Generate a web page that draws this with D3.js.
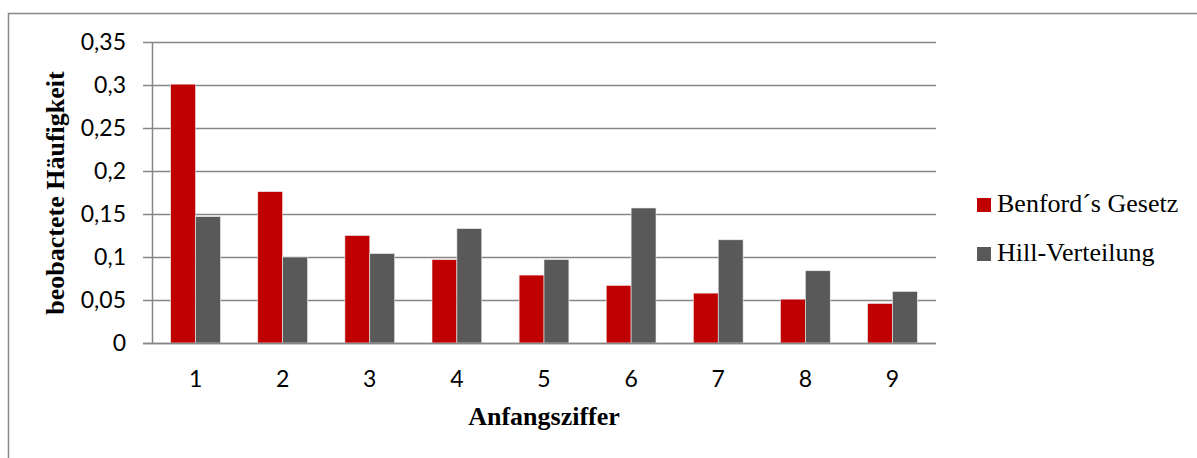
<!DOCTYPE html>
<html>
<head>
<meta charset="utf-8">
<script src="https://cdn.jsdelivr.net/npm/d3@7"></script>
<style>
  body { margin: 0; background: #fff; }
  svg { display: block; }
</style>
</head>
<body>
<svg id="chart"></svg>
<script>
// data
var categories = ["1", "2", "3", "4", "5", "6", "7", "8", "9"];
var seriesNames = ["Benford´s Gesetz", "Hill-Verteilung"];
var benford = [0.301, 0.176, 0.125, 0.097, 0.079, 0.067, 0.058, 0.051, 0.046];
var hill = [0.147, 0.100, 0.104, 0.133, 0.097, 0.157, 0.120, 0.084, 0.060];
var yTicks = [0, 0.05, 0.1, 0.15, 0.2, 0.25, 0.3, 0.35];
var colors = ["#c00000", "#595959"];

var W = 1197, H = 458;
var margin = {top: 42, right: 261, bottom: 115, left: 152},
    width = W - margin.left - margin.right,
    height = H - margin.top - margin.bottom;

var svg = d3.select("#chart")
    .attr("width", W)
    .attr("height", H);

// outer frame (runs off the right and bottom of the picture)
svg.append("rect")
    .attr("x", 8.5)
    .attr("y", 13.5)
    .attr("width", 1300)
    .attr("height", 600)
    .attr("fill", "none")
    .attr("stroke", "#888")
    .attr("stroke-width", 1.5);

var g = svg.append("g")
    .attr("transform", "translate(" + margin.left + "," + margin.top + ")");

var y = d3.scaleLinear()
    .domain([0, 0.35])
    .range([height, 0]);

var x = d3.scaleBand()
    .domain(categories)
    .range([0, width])
    .paddingInner(0)
    .paddingOuter(0);

// gap width 150% -> two bars + 1.5 bar widths of gap in each band
var x1 = d3.scaleBand()
    .domain(seriesNames)
    .range([0, x.bandwidth()])
    .paddingInner(0)
    .paddingOuter(0.75);

var fmt = function(d){ return String(d).replace(".", ","); };

// gridlines with small ticks on the left
var yAxis = d3.axisLeft(y)
    .tickValues(yTicks)
    .tickSize(-(width + 0))
    .tickPadding(17)
    .tickFormat(fmt);

var yg = g.append("g")
    .attr("class", "y axis")
    .call(yAxis);
yg.select(".domain").remove();
yg.selectAll(".tick line")
    .attr("x1", -9)
    .attr("stroke", "#868686")
    .attr("stroke-width", 1.5);
yg.selectAll(".tick text")
    .attr("x", -26)
    .style("font-family", "Lato, 'Open Sans', sans-serif")
    .style("font-size", "23px")
    .style("fill", "#000");

// y axis line
g.append("line")
    .attr("x1", 0.5).attr("x2", 0.5)
    .attr("y1", 0).attr("y2", height)
    .attr("stroke", "#868686")
    .attr("stroke-width", 1.5);

var data = categories.map(function(c, i){
    return {cat: c, values: [
        {name: seriesNames[0], value: benford[i], color: colors[0]},
        {name: seriesNames[1], value: hill[i], color: colors[1]}
    ]};
});

var groups = g.selectAll(".grp")
    .data(data)
    .enter()
    .append("g")
    .attr("class", "grp")
    .attr("transform", function(d){ return "translate(" + x(d.cat) + ",0)"; });

groups.selectAll("rect")
    .data(function(d){ return d.values; })
    .enter()
    .append("rect")
    .attr("x", function(d){ return x1(d.name); })
    .attr("width", x1.bandwidth())
    .attr("y", function(d){ return y(d.value); })
    .attr("height", function(d){ return height - y(d.value); })
    .attr("fill", function(d){ return d.color; })
    .attr("stroke", "#eee")
    .attr("stroke-width", 0.6);

// x axis line (drawn over the bars' bottom)
g.append("line")
    .attr("x1", -9).attr("x2", width)
    .attr("y1", height + 0.5).attr("y2", height + 0.5)
    .attr("stroke", "#868686")
    .attr("stroke-width", 1.5);

var xAxis = d3.axisBottom(x).tickSize(0).tickPadding(28);
var xg = g.append("g")
    .attr("class", "x axis")
    .attr("transform", "translate(0," + height + ")")
    .call(xAxis);
xg.select(".domain").remove();
xg.selectAll("text")
    .style("font-family", "Lato, 'Open Sans', sans-serif")
    .style("font-size", "23px")
    .style("fill", "#000");

// axis titles
svg.append("text")
    .attr("x", margin.left + width / 2)
    .attr("y", 425)
    .attr("text-anchor", "middle")
    .style("font-family", "'Liberation Serif', 'Times New Roman', serif")
    .style("font-weight", "bold")
    .style("font-size", "26px")
    .text("Anfangsziffer");

svg.append("text")
    .attr("transform", "translate(64," + 193 + ") rotate(-90)")
    .attr("text-anchor", "middle")
    .style("font-family", "'Liberation Serif', 'Times New Roman', serif")
    .style("font-weight", "bold")
    .style("font-size", "26px")
    .text("beobactete Häufigkeit");

// legend
var legend = svg.selectAll(".legend")
    .data(seriesNames)
    .enter()
    .append("g")
    .attr("class", "legend")
    .attr("transform", function(d, i){ return "translate(977," + (198 + i * 49) + ")"; });

legend.append("rect")
    .attr("width", 14)
    .attr("height", 14)
    .attr("fill", function(d, i){ return colors[i]; });

legend.append("text")
    .attr("x", 20)
    .attr("y", 14)
    .style("font-family", "'Liberation Serif', 'Times New Roman', serif")
    .style("font-size", "26px")
    .text(function(d){ return d; });
</script>
</body>
</html>
